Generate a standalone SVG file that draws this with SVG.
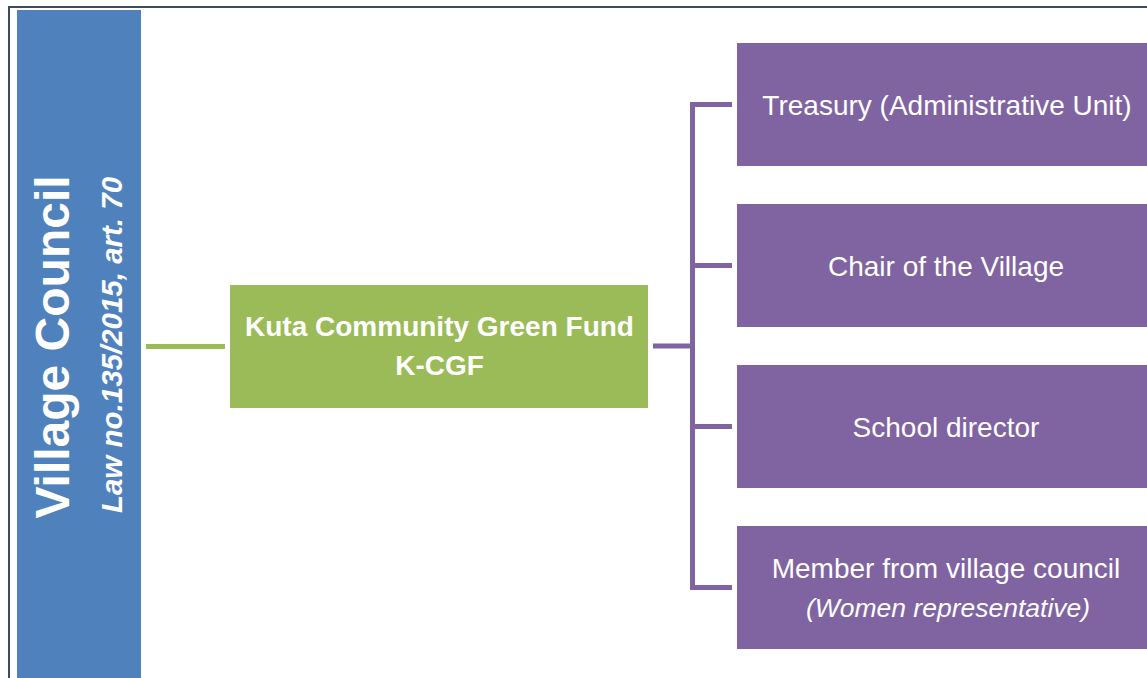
<svg xmlns="http://www.w3.org/2000/svg" width="1147" height="678" viewBox="0 0 1147 678">
<style>
.frame{fill:none;stroke:#3f4b5e;stroke-width:2}
.purple{fill:#8064a2}
.plink{fill:none;stroke:#8064a2;stroke-width:5}
.glink{fill:none;stroke:#9bbb59;stroke-width:5}
.pt{font-family:"Liberation Sans",Arial,sans-serif;font-size:28px;fill:#fff;text-anchor:middle}
.pti{font-family:"Liberation Sans",Arial,sans-serif;font-size:26.5px;font-style:italic;fill:#fff;text-anchor:middle}
.gt{font-family:"Liberation Sans",Arial,sans-serif;font-size:28px;font-weight:bold;fill:#fff;text-anchor:middle}
</style>
<rect width="1147" height="678" fill="#fff"/>
<path class="frame" d="M9,678 V7 H1147"/>
<g id="village-council">
<rect x="17" y="10" width="124" height="668" fill="#4f81bd"/>
<text transform="translate(69,347) rotate(-90)" font-family="Liberation Sans,Arial,sans-serif" font-size="48" font-weight="bold" fill="#fff" text-anchor="middle">Village Council</text>
<text transform="translate(122,345) rotate(-90)" font-family="Liberation Sans,Arial,sans-serif" font-size="29.5" font-weight="bold" font-style="italic" fill="#fff" text-anchor="middle">Law no.135/2015, art. 70</text>
</g>
<g id="connectors">
<line class="glink" x1="146" y1="346.5" x2="225" y2="346.5"/>
<line class="plink" x1="653" y1="346" x2="692.5" y2="346"/>
<line class="plink" x1="692.5" y1="102" x2="692.5" y2="590"/>
<line class="plink" x1="690" y1="104.5" x2="732" y2="104.5"/>
<line class="plink" x1="690" y1="265.5" x2="732" y2="265.5"/>
<line class="plink" x1="690" y1="426.5" x2="732" y2="426.5"/>
<line class="plink" x1="690" y1="587.5" x2="732" y2="587.5"/>
</g>
<g id="kcgf">
<rect x="230" y="285" width="418" height="123" fill="#9bbb59"/>
<text class="gt" x="439.5" y="336">Kuta Community Green Fund</text>
<text class="gt" x="439.5" y="375">K-CGF</text>
</g>
<g id="treasury">
<rect class="purple" x="737" y="43" width="418" height="123"/>
<text class="pt" x="947" y="115">Treasury (Administrative Unit)</text>
</g>
<g id="chair">
<rect class="purple" x="737" y="204" width="418" height="123"/>
<text class="pt" x="946" y="276">Chair of the Village</text>
</g>
<g id="school">
<rect class="purple" x="737" y="365" width="418" height="123"/>
<text class="pt" x="946" y="437">School director</text>
</g>
<g id="member">
<rect class="purple" x="737" y="526" width="418" height="123"/>
<text class="pt" x="946" y="578">Member from village council</text>
<text class="pti" x="948" y="617">(Women representative)</text>
</g>
</svg>
